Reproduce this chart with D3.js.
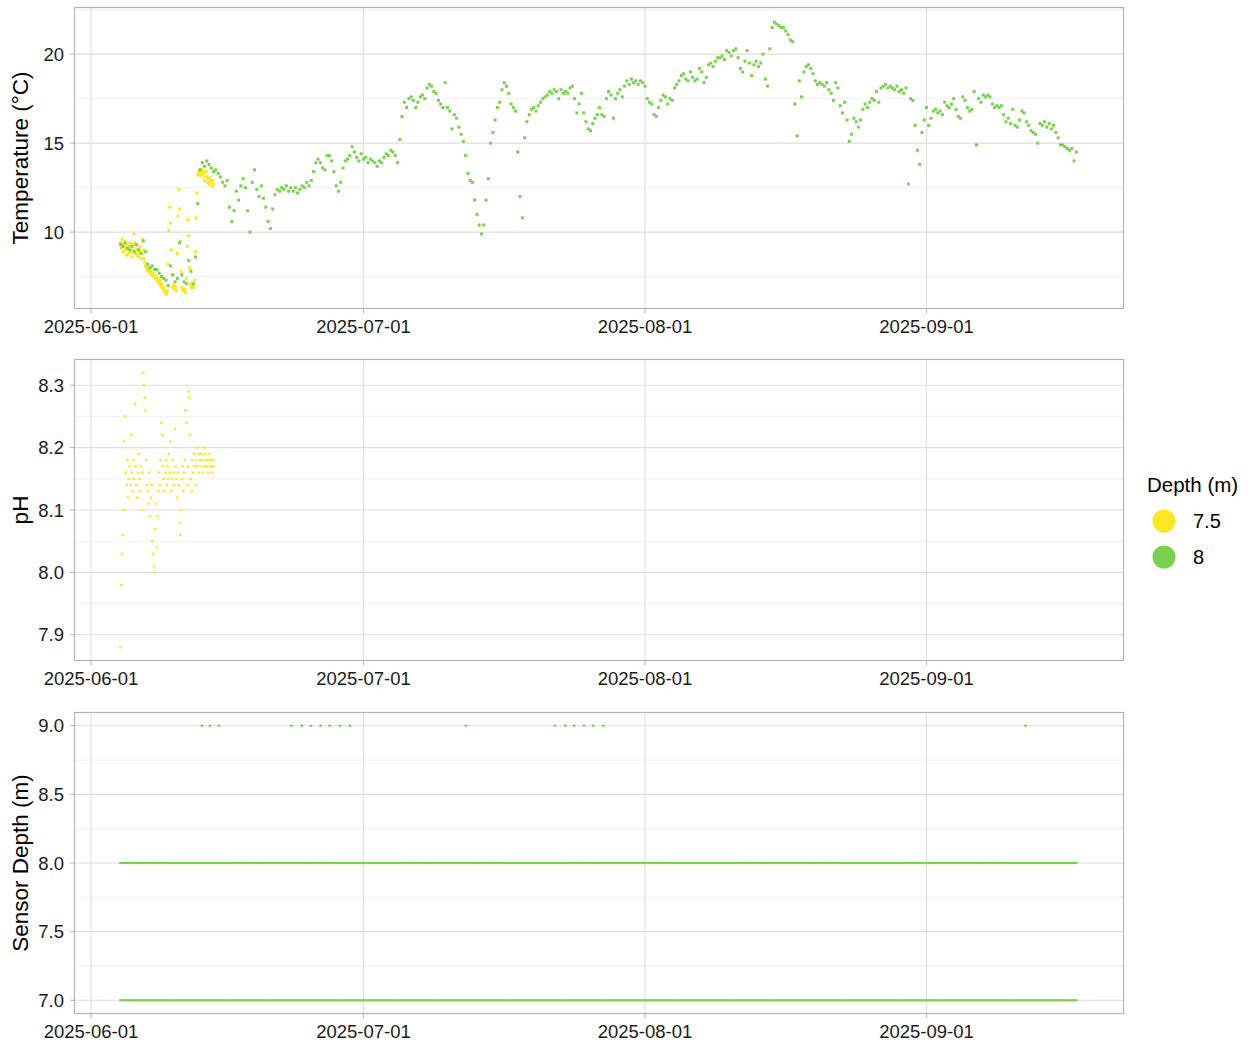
<!DOCTYPE html>
<html>
<head>
<meta charset="utf-8">
<script src="https://cdn.jsdelivr.net/npm/d3@7"></script>
<style>
  body { margin: 0; background: #fff; }
  text { font-family: "Liberation Sans", Arial, sans-serif; }
</style>
</head>
<body>
<script>
var dateTicks = ['2025-06-01', '2025-07-01', '2025-08-01', '2025-09-01'];
var depthNames = ['7.5', '8'];
var depthColors = ['#FDE725', '#7AD151'];

// 8 m logger, one reading every 6 hours from the start time
var temp8Start = '2025-06-04 06:00';
var temp8StepHours = 6;
var temp8 = [
  9.3, 9.2, 9.4, 9.1,  9.0, 9.2, 8.9, 9.3,  9.0, 8.8, 9.5, 8.9,  8.2, 8.0, 8.1, 7.9,
  7.9, 7.7, 7.5, 7.4,  7.3, 7.0, 8.1, 7.6,  7.2, 7.4, 9.4, 7.6,  7.2, 7.1, 8.4, 7.8,
  7.1, 8.6, 11.6, 13.5,  13.9, 13.7, 14.0, 13.8,  13.6, 13.4, 13.5, 13.3,  13.1, 12.8, 12.6, 12.9,
  11.4, 10.6, 11.2, 12.3,  11.8, 12.6, 13.0, 12.5,  11.2, 10.0, 12.8, 13.5,  12.4, 12.0, 12.6, 11.9,
  11.4, 10.6, 10.2, 11.3,  12.1, 12.4, 12.3, 12.5,  12.4, 12.6, 12.3, 12.5,  12.3, 12.5, 12.2, 12.4,
  12.6, 12.5, 12.8, 12.6,  12.9, 13.4, 13.9, 14.1,  13.9, 13.6, 13.5, 14.3,  14.3, 14.0, 13.4, 12.6,
  12.3, 12.8, 13.6, 14.0,  14.1, 14.3, 14.8, 14.5,  14.2, 14.0, 14.4, 14.1,  14.2, 13.9, 14.1, 14.0,
  13.9, 13.7, 14.0, 13.9,  14.2, 14.4, 14.3, 14.6,  14.5, 14.3, 13.9, 15.2,  16.5, 17.3, 17.0, 17.5,
  17.6, 17.4, 17.0, 17.3,  17.6, 17.7, 17.5, 18.1,  18.3, 18.2, 17.9, 17.8,  17.4, 17.2, 17.0, 18.4,
  17.0, 16.8, 15.8, 16.6,  16.4, 15.9, 15.5, 15.1,  14.3, 13.3, 12.9, 12.8,  11.8, 11.0, 10.4, 9.9,
  10.4, 11.8, 13.0, 15.0,  15.6, 16.3, 17.0, 17.3,  18.0, 18.4, 18.2, 17.8,  17.2, 17.0, 16.8, 14.5,
  12.0, 10.8, 15.3, 16.2,  16.6, 16.9, 17.0, 16.8,  17.1, 17.3, 17.5, 17.6,  17.7, 17.9, 17.8, 18.0,
  17.9, 17.5, 18.0, 17.8,  17.9, 17.8, 18.1, 18.2,  17.5, 16.7, 17.2, 17.8,  16.7, 16.2, 15.8, 15.7,
  16.1, 16.4, 16.6, 17.0,  16.6, 16.5, 17.5, 17.9,  17.7, 16.4, 17.5, 17.8,  18.0, 17.6, 18.2, 18.5,
  18.3, 18.6, 18.4, 18.5,  18.3, 18.5, 18.4, 18.2,  17.5, 17.3, 17.2, 16.6,  16.5, 17.0, 17.4, 17.7,
  17.6, 17.2, 17.5, 17.4,  18.1, 18.3, 18.5, 18.8,  18.9, 18.6, 18.5, 19.0,  18.7, 18.5, 18.6, 19.2,
  19.0, 18.4, 18.7, 19.4,  19.5, 19.3, 19.6, 19.8,  19.8, 19.9, 19.7, 20.2,  20.1, 19.9, 20.2, 20.3,
  19.8, 19.2, 19.0, 19.6,  20.2, 19.5, 18.8, 19.4,  19.6, 19.3, 19.5, 20.0,  18.6, 18.2, 20.3, 21.5,
  21.8, 21.7, 21.6, 21.5,  21.5, 21.3, 21.1, 20.8,  20.7, 17.2, 15.4, 18.5,  17.6, 19.0, 19.3, 19.4,
  19.2, 18.9, 18.5, 18.3,  18.4, 18.3, 18.2, 18.4,  18.0, 17.8, 17.4, 18.4,  18.1, 17.1, 16.7, 17.3,
  16.3, 15.1, 15.5, 16.4,  16.2, 15.9, 16.3, 16.9,  17.2, 17.0, 17.3, 17.5,  17.4, 17.9, 17.3, 18.1,
  18.2, 18.3, 18.1, 18.2,  18.1, 18.0, 18.2, 17.9,  18.0, 17.8, 18.1, 12.7,  17.5, 17.4, 16.0, 14.6,
  13.8, 15.6, 16.3, 17.0,  16.0, 16.4, 16.8, 16.9,  16.7, 16.8, 16.6, 17.3,  17.1, 17.0, 17.2, 17.5,
  16.9, 16.5, 16.4, 17.6,  17.4, 17.0, 16.8, 16.9,  17.9, 14.9, 17.5, 17.3,  17.7, 17.6, 17.7, 17.6,
  17.2, 17.0, 17.1, 17.0,  17.1, 16.6, 16.2, 16.4,  16.1, 16.9, 16.0, 15.9,  16.3, 16.8, 16.7, 16.2,
  16.0, 15.7, 15.6, 15.5,  15.0, 16.1, 16.0, 16.2,  15.9, 16.1, 15.8, 16.0,  15.6, 15.3, 14.9, 14.9,
  14.8, 14.7, 14.6, 14.7,  14.0, 14.5
];

// 7.5 m sonde, one reading every 2 hours from the start time
var temp75Start = '2025-06-04 06:00';
var temp75StepHours = 2;
var temp75 = [
  9.4, 9.1, 9.6, 9.3, 8.9, 9.2,  9.5, 9.0, 8.7, 9.3, 9.1, 8.8,
  9.2, 9.4, 8.9, 8.6, 9.0, 9.3,  9.9, 9.4, 8.8, 9.0, 8.7, 9.1,
  8.6, 8.9, 9.2, 8.5, 8.8, 9.6,  9.0, 8.5, 8.3, 8.1, 8.0, 7.9,
  8.0, 7.8, 7.9, 7.7, 7.8, 7.6,  7.7, 7.6, 7.5, 7.6, 7.4, 7.5,
  7.3, 7.4, 7.2, 7.1, 7.3, 7.0,  7.1, 6.9, 6.8, 6.9, 6.7, 6.6,
  6.5, 6.6, 6.7, 8.2, 10.1, 11.4,  10.5, 9.0, 7.6, 6.9, 7.0, 6.8,
  6.8, 6.9, 6.7, 8.8, 10.9, 12.4,  11.3, 9.5, 7.8, 6.9, 6.8, 6.7,
  6.7, 6.8, 6.6, 7.4, 9.2, 10.7,  9.8, 8.0, 7.1, 6.9, 7.0, 6.9,
  7.0, 6.9, 7.3, 8.9, 10.8, 12.2,  13.2, 13.4, 13.3, 13.5, 13.2, 13.4,
  13.2, 13.5, 13.3, 12.9, 13.1, 13.4,  13.1, 12.8, 13.0, 12.7, 12.9, 13.1,
  12.8, 12.6, 12.9, 12.7
];
var ph75 = [
  7.88, 7.98, 8.03, 8.06, 8.10, 8.21,  8.25, 8.16, 8.14, 8.18, 8.12, 8.15,
  8.17, 8.14, 8.22, 8.16, 8.13, 8.18,  8.15, 8.27, 8.17, 8.14, 8.12, 8.16,
  8.19, 8.15, 8.13, 8.17, 8.10, 8.16,  8.32, 8.30, 8.28, 8.26, 8.18, 8.14,
  8.13, 8.11, 8.16, 8.09, 8.12, 8.14,  8.05, 8.03, 8.01, 8.00, 8.07, 8.11,
  8.04, 8.09, 8.13, 8.16, 8.14, 8.18,  8.24, 8.22, 8.17, 8.15, 8.13, 8.16,
  8.18, 8.14, 8.17, 8.15, 8.19, 8.16,  8.21, 8.13, 8.15, 8.18, 8.16, 8.14,
  8.23, 8.17, 8.15, 8.12, 8.16, 8.14,  8.08, 8.06, 8.10, 8.15, 8.17, 8.13,
  8.16, 8.18, 8.26, 8.24, 8.14, 8.17,  8.29, 8.28, 8.22, 8.15, 8.13, 8.18,
  8.16, 8.19, 8.17, 8.14, 8.18, 8.20,  8.17, 8.19, 8.16, 8.18, 8.17, 8.19,
  8.18, 8.16, 8.20, 8.17, 8.19, 8.18,  8.17, 8.18, 8.16, 8.19, 8.17, 8.18,
  8.17, 8.16, 8.18, 8.17
];

// sensor depth: both loggers report their nominal depth, odd 9 m records
var sensorDepthLevels = [7, 8];
var sensorDepth9Times = [
  '2025-06-13 05:00', '2025-06-14 02:00', '2025-06-15 02:00',
  '2025-06-23 02:00', '2025-06-24 05:00', '2025-06-25 05:00', '2025-06-26 07:00',
  '2025-06-27 07:00', '2025-06-28 10:00', '2025-06-29 12:00', '2025-07-12 07:00',
  '2025-07-22 02:00', '2025-07-23 05:00', '2025-07-24 05:00', '2025-07-25 07:00',
  '2025-07-26 07:00', '2025-07-27 10:00', '2025-09-11 22:00'
];

var tempTicks = [10, 15, 20];
var phTicks = [7.9, 8.0, 8.1, 8.2, 8.3];
var depthTicks = [7.0, 7.5, 8.0, 8.5, 9.0];

(function draw() {
  "use strict";
  var width = 1251, height = 1047;
  var left = 74, right = 1124;
  var gridMajor = '#dedede', gridMinor = '#ececec', borderColor = '#b3b3b3';
  var tickFont = 18.5, titleFont = 22.5;

  var parseTime = d3.utcParse('%Y-%m-%d %H:%M');
  var parseDay = d3.utcParse('%Y-%m-%d');

  var svg = d3.select('body')
    .append('svg')
    .attr('width', width)
    .attr('height', height);

  var x = d3.scaleUtc()
    .domain([parseTime('2025-05-30 03:00'), parseTime('2025-09-22 18:00')])
    .range([left, right]);

  function series(start, stepHours, values) {
    var t0 = parseTime(start);
    return values.map(function(v, i) {
      return { t: d3.utcHour.offset(t0, i * stepHours), v: v };
    });
  }

  var green = series(temp8Start, temp8StepHours, temp8);
  var yellowT = series(temp75Start, temp75StepHours, temp75);
  var yellowPh = series(temp75Start, temp75StepHours, ph75);

  var depthPts = [];
  sensorDepthLevels.forEach(function(lv) {
    green.forEach(function(d) { depthPts.push({ t: d.t, v: lv }); });
  });
  sensorDepth9Times.forEach(function(s) { depthPts.push({ t: parseTime(s), v: 9 }); });

  function panel(top, bottom, domain, ticks, fmt, title) {
    var g = svg.append('g');
    var y = d3.scaleLinear().domain(domain).range([bottom, top]);
    var step = ticks[1] - ticks[0];
    var minors = [];
    for (var m = ticks[0] - step / 2; m <= domain[1]; m += step) {
      if (m >= domain[0]) minors.push(m);
    }

    g.selectAll('line.minor')
      .data(minors)
      .enter().append('line')
      .attr('x1', left).attr('x2', right)
      .attr('y1', function(d) { return y(d); })
      .attr('y2', function(d) { return y(d); })
      .style('stroke', gridMinor)
      .style('stroke-width', 0.8);

    g.selectAll('line.hmajor')
      .data(ticks)
      .enter().append('line')
      .attr('x1', left).attr('x2', right)
      .attr('y1', function(d) { return y(d); })
      .attr('y2', function(d) { return y(d); })
      .style('stroke', gridMajor)
      .style('stroke-width', 1.1);

    g.selectAll('line.vmajor')
      .data(dateTicks)
      .enter().append('line')
      .attr('x1', function(d) { return x(parseDay(d)); })
      .attr('x2', function(d) { return x(parseDay(d)); })
      .attr('y1', top).attr('y2', bottom)
      .style('stroke', gridMajor)
      .style('stroke-width', 1.1);

    // ticks and labels
    g.selectAll('line.ytick')
      .data(ticks)
      .enter().append('line')
      .attr('x1', left - 4).attr('x2', left)
      .attr('y1', function(d) { return y(d); })
      .attr('y2', function(d) { return y(d); })
      .style('stroke', borderColor);

    g.selectAll('text.ylab')
      .data(ticks)
      .enter().append('text')
      .attr('x', left - 10)
      .attr('y', function(d) { return y(d); })
      .attr('dy', '0.36em')
      .attr('text-anchor', 'end')
      .attr('font-size', tickFont + 'px')
      .attr('fill', '#1a1a1a')
      .text(fmt);

    g.selectAll('line.xtick')
      .data(dateTicks)
      .enter().append('line')
      .attr('x1', function(d) { return x(parseDay(d)); })
      .attr('x2', function(d) { return x(parseDay(d)); })
      .attr('y1', bottom).attr('y2', bottom + 4)
      .style('stroke', borderColor);

    g.selectAll('text.xlab')
      .data(dateTicks)
      .enter().append('text')
      .attr('x', function(d) { return x(parseDay(d)); })
      .attr('y', bottom + 24)
      .attr('text-anchor', 'middle')
      .attr('font-size', tickFont + 'px')
      .attr('fill', '#1a1a1a')
      .text(function(d) { return d; });

    g.append('text')
      .attr('transform', 'translate(28,' + ((top + bottom) / 2) + ') rotate(-90)')
      .attr('text-anchor', 'middle')
      .attr('font-size', titleFont + 'px')
      .attr('fill', '#000')
      .text(title);

    return { g: g, y: y, top: top, bottom: bottom };
  }

  function border(p) {
    p.g.append('rect')
      .attr('x', left + 0.5).attr('y', p.top + 0.5)
      .attr('width', right - left - 1).attr('height', p.bottom - p.top - 1)
      .style('fill', 'none')
      .style('stroke', borderColor)
      .style('stroke-width', 1.2);
  }

  // small square markers, like ggplot points at this size
  function dots(p, data, color, w, h) {
    p.g.append('g')
      .selectAll('rect')
      .data(data)
      .enter().append('rect')
      .attr('x', function(d) { return x(d.t) - w / 2; })
      .attr('y', function(d) { return p.y(d.v) - h / 2; })
      .attr('width', w)
      .attr('height', h)
      .style('fill', color);
  }

  var p1 = panel(7, 309, [5.68, 22.65], tempTicks, d3.format('d'), 'Temperature (°C)');
  dots(p1, yellowT, depthColors[0], 3, 3);
  dots(p1, green, depthColors[1], 3, 3);
  border(p1);

  var p2 = panel(359, 661, [7.858, 8.342], phTicks, d3.format('.1f'), 'pH');
  dots(p2, yellowPh, depthColors[0], 2.6, 2.2);
  border(p2);

  var p3 = panel(712, 1014, [6.9, 9.1], depthTicks, d3.format('.1f'), 'Sensor Depth (m)');
  dots(p3, depthPts, depthColors[1], 2.6, 2.2);
  border(p3);

  // legend
  var legend = svg.append('g').attr('transform', 'translate(1147,0)');
  legend.append('text')
    .attr('x', 0).attr('y', 492)
    .attr('font-size', '20.5px')
    .attr('fill', '#000')
    .text('Depth (m)');

  var items = legend.selectAll('g.item')
    .data(depthNames)
    .enter().append('g')
    .attr('transform', function(d, i) { return 'translate(0,' + (521 + i * 36) + ')'; });

  items.append('circle')
    .attr('cx', 17).attr('cy', 0).attr('r', 11.5)
    .style('fill', function(d, i) { return depthColors[i]; });

  items.append('text')
    .attr('x', 46).attr('y', 7.3)
    .attr('font-size', '20px')
    .attr('fill', '#000')
    .text(function(d) { return d; });
})();
</script>
</body>
</html>
